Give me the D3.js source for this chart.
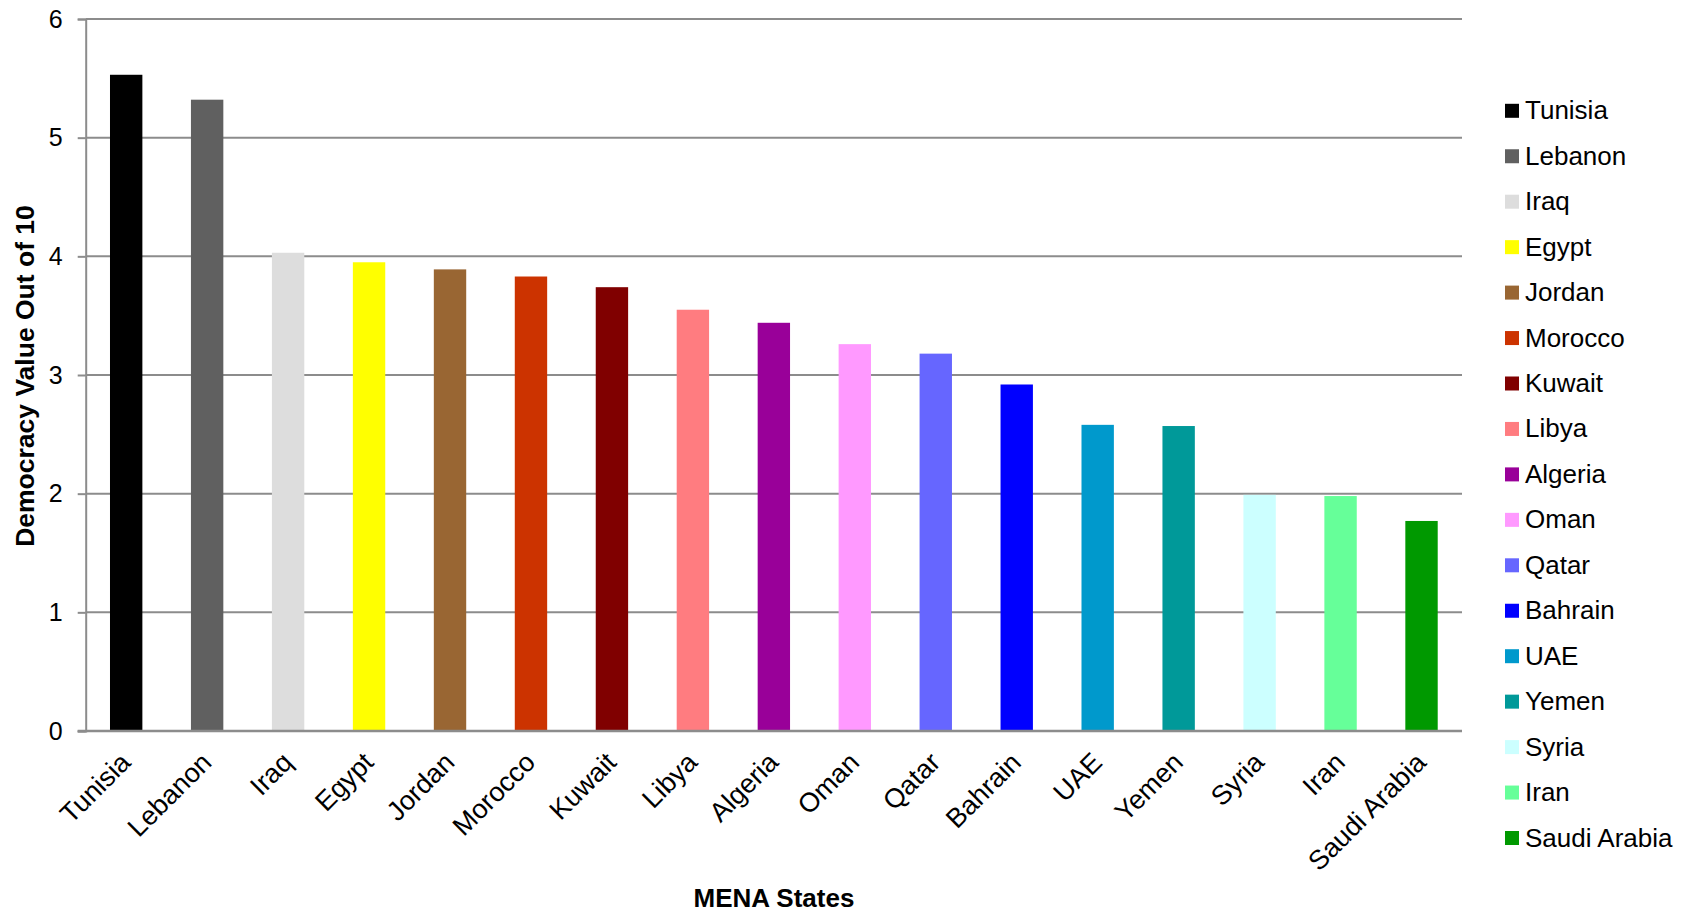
<!DOCTYPE html>
<html>
<head>
<meta charset="utf-8">
<script src="https://cdn.jsdelivr.net/npm/d3@7"></script>
<style>
  html, body { margin: 0; padding: 0; background: #fff; }
  svg { display: block; font-family: "Liberation Sans", Arial, sans-serif; }
</style>
</head>
<body>
<svg id="chart" width="1694" height="914"></svg>
<script>
const categories = ["Tunisia","Lebanon","Iraq","Egypt","Jordan","Morocco","Kuwait","Libya","Algeria","Oman","Qatar","Bahrain","UAE","Yemen","Syria","Iran","Saudi Arabia"];
const values = [5.53,5.32,4.03,3.95,3.89,3.83,3.74,3.55,3.44,3.26,3.18,2.92,2.58,2.57,1.99,1.98,1.77];
const colors = ["#000000","#606060","#dddddd","#ffff00","#996633","#cc3300","#800000","#ff7c80","#990099","#ff99ff","#6666ff","#0000ff","#0099cc","#009999","#ccffff","#66ff99","#009900"];
const yTicks = [0,1,2,3,4,5,6];
const xTitle = "MENA States";
const yTitle = "Democracy Value Out of 10";

(function () {
const svg = d3.select("#chart");
const pLeft = 85.7, pRight = 1462, pTop = 19, pBottom = 731;

const x = d3.scaleBand().domain(categories).range([pLeft, pRight]).paddingInner(0.6).paddingOuter(0.3);
const y = d3.scaleLinear().domain([0, 6]).range([pBottom, pTop]);

// gridlines
svg.append("g").selectAll("line").data(yTicks.filter(d => d > 0)).join("line")
  .attr("x1", pLeft).attr("x2", pRight)
  .attr("y1", d => y(d)).attr("y2", d => y(d))
  .attr("stroke", "#8c8c8c").attr("stroke-width", 2);

// bars
svg.append("g").selectAll("rect").data(categories).join("rect")
  .attr("x", d => x(d))
  .attr("width", x.bandwidth())
  .attr("y", (d, i) => y(values[i]))
  .attr("height", (d, i) => y(0) - y(values[i]))
  .attr("fill", (d, i) => colors[i]);

// y axis
const yAxis = svg.append("g").attr("transform", `translate(${pLeft},0)`)
  .call(d3.axisLeft(y).tickValues(yTicks).tickSize(8).tickPadding(15).tickFormat(d3.format("d")));
yAxis.select(".domain").attr("stroke", "#8c8c8c").attr("stroke-width", 2);
yAxis.selectAll(".tick line").attr("stroke", "#8c8c8c").attr("stroke-width", 2);
yAxis.selectAll(".tick text").attr("font-size", 25).attr("fill", "#000")
  .attr("font-family", "Liberation Sans, Arial, sans-serif");

// x axis baseline
svg.append("line").attr("x1", pLeft - 8).attr("x2", pRight).attr("y1", y(0)).attr("y2", y(0))
  .attr("stroke", "#8c8c8c").attr("stroke-width", 2.5);

// x labels
svg.append("g").selectAll("text").data(categories).join("text")
  .attr("transform", d => `translate(${x(d) + x.bandwidth() / 2 + 6},${pBottom + 33}) rotate(-45)`)
  .attr("text-anchor", "end")
  .attr("font-size", 27)
  .attr("fill", "#000")
  .text(d => d);

// axis titles
svg.append("text").attr("x", 774).attr("y", 907).attr("text-anchor", "middle")
  .attr("font-size", 26).attr("font-weight", "bold").text(xTitle);
svg.append("text").attr("transform", "translate(34,376) rotate(-90)").attr("text-anchor", "middle")
  .attr("font-size", 26.5).attr("font-weight", "bold").text(yTitle);

// legend
const lg = svg.append("g").selectAll("g").data(categories).join("g")
  .attr("transform", (d, i) => `translate(1505,${110.8 + i * 45.45})`);
lg.append("rect").attr("x", 0).attr("y", -7).attr("width", 14).attr("height", 14)
  .attr("fill", (d, i) => colors[i]);
lg.append("text").attr("x", 20).attr("y", 8.5).attr("font-size", 26).attr("fill", "#000").text(d => d);
})();
</script>
</body>
</html>
